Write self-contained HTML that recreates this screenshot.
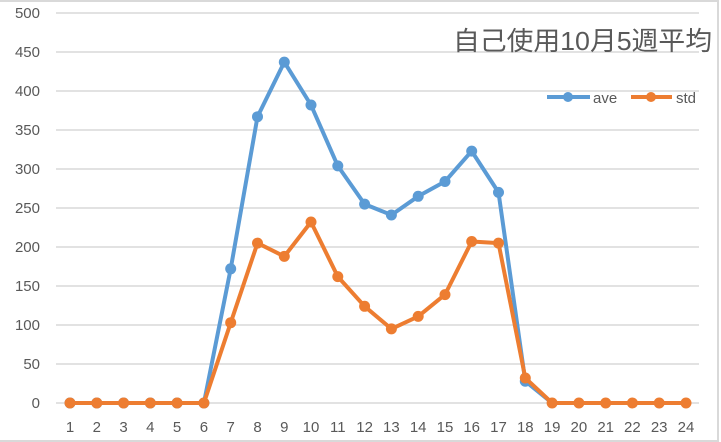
<!DOCTYPE html>
<html><head><meta charset="utf-8"><style>
html,body{margin:0;padding:0;background:#fff;}
svg{display:block;}
</style></head><body>
<svg width="721" height="442" xmlns="http://www.w3.org/2000/svg" font-family="'Liberation Sans','Noto Sans CJK JP',sans-serif">
<rect x="0" y="0" width="721" height="442" fill="#fff"/>
<rect x="-2" y="1" width="720" height="440" fill="none" stroke="#d9d9d9" stroke-width="2"/>
<g stroke="#d9d9d9" stroke-width="1.5">
<line x1="56" x2="699" y1="13" y2="13"/><line x1="56" x2="699" y1="52" y2="52"/>
<line x1="56" x2="699" y1="91" y2="91"/><line x1="56" x2="699" y1="130" y2="130"/>
<line x1="56" x2="699" y1="169" y2="169"/><line x1="56" x2="699" y1="208" y2="208"/>
<line x1="56" x2="699" y1="247" y2="247"/><line x1="56" x2="699" y1="286" y2="286"/>
<line x1="56" x2="699" y1="325" y2="325"/><line x1="56" x2="699" y1="364" y2="364"/>
<line x1="56" x2="699" y1="403" y2="403"/>
</g>
<g fill="#595959" font-size="15" text-anchor="end">
<text x="40" y="18">500</text><text x="40" y="57">450</text><text x="40" y="96">400</text>
<text x="40" y="135">350</text><text x="40" y="174">300</text><text x="40" y="213">250</text>
<text x="40" y="252">200</text><text x="40" y="291">150</text><text x="40" y="330">100</text>
<text x="40" y="369">50</text><text x="40" y="408">0</text>
</g>
<g fill="#595959" font-size="15" text-anchor="middle">
<text x="70" y="432">1</text><text x="96.8" y="432">2</text><text x="123.6" y="432">3</text><text x="150.3" y="432">4</text>
<text x="177.1" y="432">5</text><text x="203.9" y="432">6</text><text x="230.7" y="432">7</text><text x="257.5" y="432">8</text>
<text x="284.3" y="432">9</text><text x="311" y="432">10</text><text x="337.8" y="432">11</text><text x="364.6" y="432">12</text>
<text x="391.4" y="432">13</text><text x="418.2" y="432">14</text><text x="445" y="432">15</text><text x="471.7" y="432">16</text>
<text x="498.5" y="432">17</text><text x="525.3" y="432">18</text><text x="552.1" y="432">19</text><text x="578.9" y="432">20</text>
<text x="605.7" y="432">21</text><text x="632.4" y="432">22</text><text x="659.2" y="432">23</text><text x="686" y="432">24</text>
</g>
<text x="453" y="50" font-size="26" fill="#595959" textLength="259" lengthAdjust="spacingAndGlyphs">自己使用10月5週平均</text>
<g>
<line x1="547" x2="590" y1="97" y2="97" stroke="#5b9bd5" stroke-width="4"/>
<circle cx="568" cy="97" r="5" fill="#5b9bd5"/>
<text x="593" y="103" font-size="15" fill="#595959">ave</text>
<line x1="631" x2="672" y1="97" y2="97" stroke="#ed7d31" stroke-width="4"/>
<circle cx="651" cy="97" r="5" fill="#ed7d31"/>
<text x="676" y="103" font-size="15" fill="#595959">std</text>
</g>
<g id="ave" fill="#5b9bd5">
<polyline fill="none" stroke="#5b9bd5" stroke-width="4" stroke-linejoin="round" points="70,403 96.8,403 123.6,403 150.3,403 177.1,403 203.9,403 230.7,268.8 257.5,116.7 284.3,62.1 311,105 337.8,165.9 364.6,204.1 391.4,215 418.2,196.3 445,181.5 471.7,151.1 498.5,192.4 525.3,381.2 552.1,403 578.9,403 605.7,403 632.4,403 659.2,403 686,403"/>
<circle cx="70" cy="403" r="5.5"/><circle cx="96.8" cy="403" r="5.5"/><circle cx="123.6" cy="403" r="5.5"/><circle cx="150.3" cy="403" r="5.5"/><circle cx="177.1" cy="403" r="5.5"/><circle cx="203.9" cy="403" r="5.5"/>
<circle cx="230.7" cy="268.8" r="5.5"/><circle cx="257.5" cy="116.7" r="5.5"/><circle cx="284.3" cy="62.1" r="5.5"/><circle cx="311" cy="105" r="5.5"/><circle cx="337.8" cy="165.9" r="5.5"/><circle cx="364.6" cy="204.1" r="5.5"/>
<circle cx="391.4" cy="215" r="5.5"/><circle cx="418.2" cy="196.3" r="5.5"/><circle cx="445" cy="181.5" r="5.5"/><circle cx="471.7" cy="151.1" r="5.5"/><circle cx="498.5" cy="192.4" r="5.5"/><circle cx="525.3" cy="381.2" r="5.5"/>
</g>
<g id="std" fill="#ed7d31">
<polyline fill="none" stroke="#ed7d31" stroke-width="4" stroke-linejoin="round" points="70,403 96.8,403 123.6,403 150.3,403 177.1,403 203.9,403 230.7,322.7 257.5,243.1 284.3,256.4 311,222 337.8,276.6 364.6,306.3 391.4,328.9 418.2,316.4 445,294.6 471.7,241.5 498.5,243.1 525.3,378 552.1,403 578.9,403 605.7,403 632.4,403 659.2,403 686,403"/>
<circle cx="70" cy="403" r="5.5"/><circle cx="96.8" cy="403" r="5.5"/><circle cx="123.6" cy="403" r="5.5"/><circle cx="150.3" cy="403" r="5.5"/><circle cx="177.1" cy="403" r="5.5"/><circle cx="203.9" cy="403" r="5.5"/>
<circle cx="230.7" cy="322.7" r="5.5"/><circle cx="257.5" cy="243.1" r="5.5"/><circle cx="284.3" cy="256.4" r="5.5"/><circle cx="311" cy="222" r="5.5"/><circle cx="337.8" cy="276.6" r="5.5"/><circle cx="364.6" cy="306.3" r="5.5"/>
<circle cx="391.4" cy="328.9" r="5.5"/><circle cx="418.2" cy="316.4" r="5.5"/><circle cx="445" cy="294.6" r="5.5"/><circle cx="471.7" cy="241.5" r="5.5"/><circle cx="498.5" cy="243.1" r="5.5"/><circle cx="525.3" cy="378" r="5.5"/>
<circle cx="552.1" cy="403" r="5.5"/><circle cx="578.9" cy="403" r="5.5"/><circle cx="605.7" cy="403" r="5.5"/><circle cx="632.4" cy="403" r="5.5"/><circle cx="659.2" cy="403" r="5.5"/><circle cx="686" cy="403" r="5.5"/>
</g>
</svg>
</body></html>
